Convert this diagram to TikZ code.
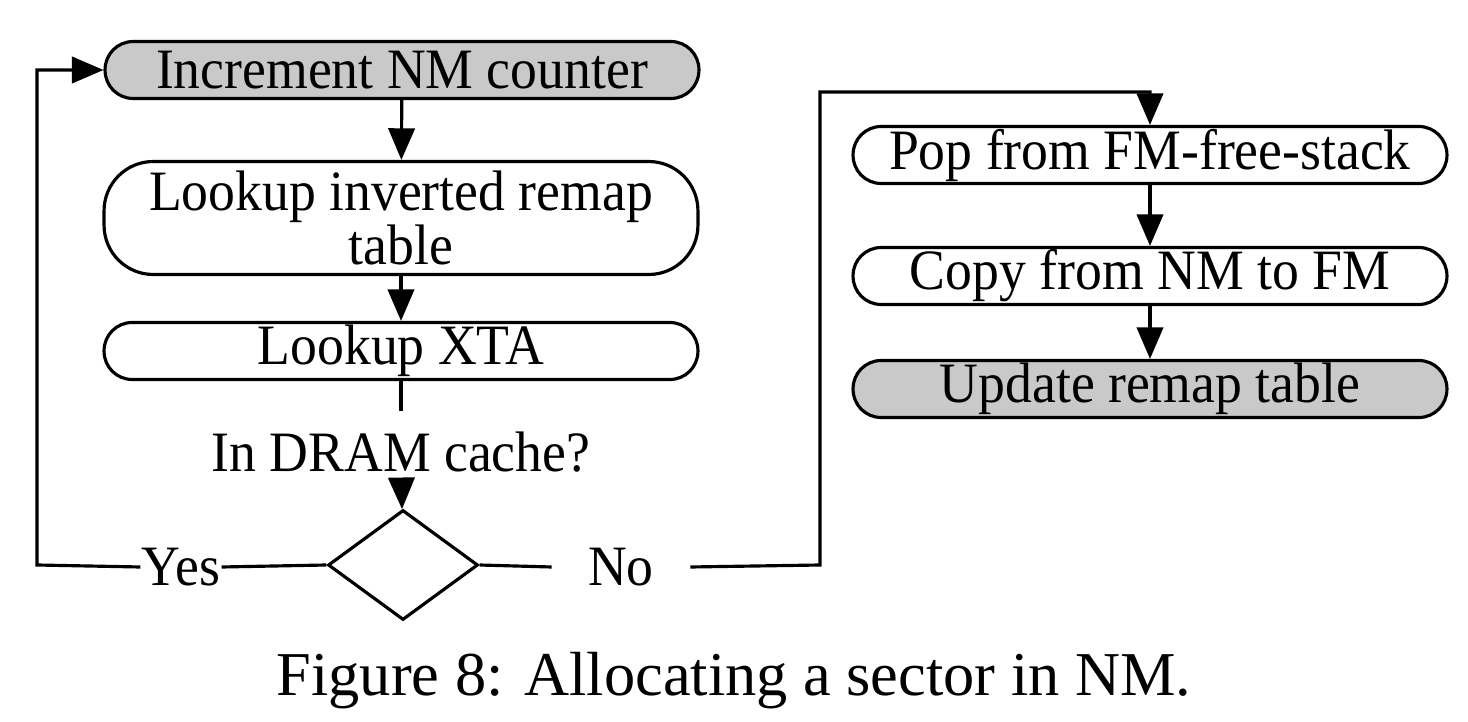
\documentclass[tikz,border=0pt]{standalone}
\usepackage{fontspec}
\setmainfont{Liberation Serif}
\newfontfamily\narrowserif[FakeStretch=0.94]{Liberation Serif}
\usepackage{tikz}
\usetikzlibrary{arrows.meta,positioning,shapes.geometric}

\begin{document}
\begin{tikzpicture}[x=0.02cm, y=-0.02cm, line width=1.8pt,
    >={Triangle[length=18pt,width=15pt]},
    flowbox/.style={draw, rounded corners=16pt, minimum width=11.88cm,
      minimum height=1.14cm, inner sep=0pt, align=center,
      font=\fontsize{32.5pt}{31pt}\selectfont\narrowserif},
    shaded/.style={fill=gray!42},
    lbl/.style={inner sep=0pt, font=\fontsize{32.5pt}{31pt}\selectfont\narrowserif}]
  \useasboundingbox (0,0) rectangle (1468,722);
  % left column
  \node[flowbox, shaded] (incr) at (402,70) {Increment NM counter};
  \node[flowbox, minimum height=2.26cm, rounded corners=28pt] (inv) at (401,218) {Lookup inverted remap\\table};
  \node[flowbox] (xta) at (401,351) {Lookup XTA};
  \node[lbl, inner ysep=11pt] (query) at (401,452) {In DRAM cache?};
  \node[draw, diamond, minimum width=3cm, minimum height=2.2cm, inner sep=0pt] (cond) at (403,565) {};
  \node[lbl] (yes) at (181,567) {Yes};
  \node[lbl, inner xsep=0.7cm] (no) at (621,567) {No};
  \coordinate (yescorner) at (37,565);
  \coordinate (nocorner) at (820,565);
  \coordinate (nobend) at (820,92);
  % right column
  \node[flowbox] (pop) at (1150,155) {Pop from FM-free-stack};
  \node[flowbox] (copy) at (1150,276) {Copy from NM to FM};
  \node[flowbox, shaded] (upd) at (1150,389) {Update remap table};
  \node[font=\fontsize{35.5pt}{40pt}\selectfont] (cap) at (734,681) {Figure 8: Allocating a sector in NM.};
  % connectors
  \draw[->] (incr) -- (inv);
  \draw[->] (inv) -- (xta);
  \draw (xta) -- (query);
  \draw[->] (query) -- (cond);
  \draw (cond.west) -- (yes.east);
  \draw[->] (yes.west) -- (yescorner) |- (incr.west);
  \draw (cond.east) -- (no.west);
  \draw[->] (no.east) -- (nocorner) -- (nobend) -| (pop.north);
  \draw[->] (pop) -- (copy);
  \draw[->] (copy) -- (upd);
\end{tikzpicture}
\end{document}
